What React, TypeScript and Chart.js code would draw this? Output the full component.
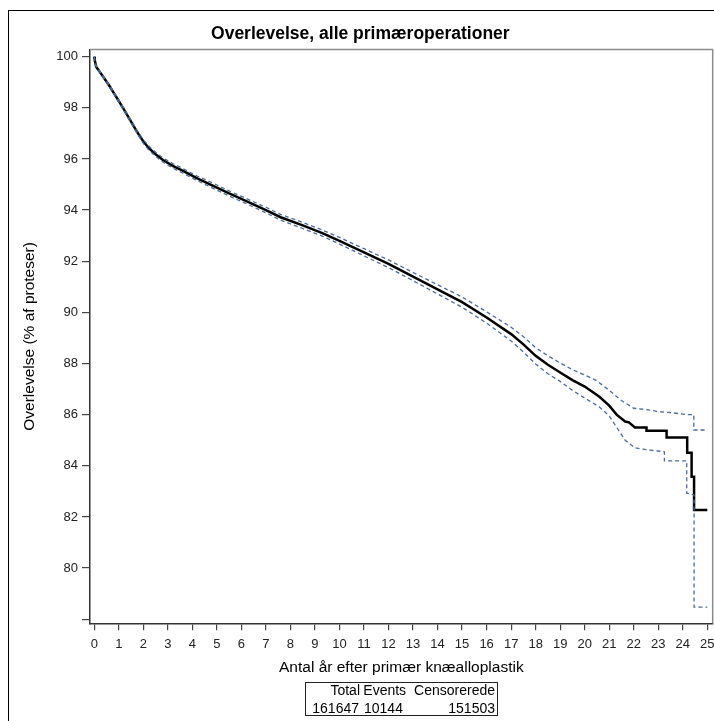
import React, { useEffect, useRef } from "react";
import { Chart, registerables } from "chart.js";

Chart.register(...registerables);

const FONT = "'Liberation Sans', Arial, sans-serif";

const TITLE = "Overlevelse, alle primæroperationer";
const X_TITLE = "Antal år efter primær knæalloplastik";
const Y_TITLE = "Overlevelse (% af proteser)";

const X_TICKS = [0, 1, 2, 3, 4, 5, 6, 7, 8, 9, 10, 11, 12, 13, 14, 15, 16, 17, 18, 19, 20, 21, 22, 23, 24, 25];
const Y_TICKS = [78, 80, 82, 84, 86, 88, 90, 92, 94, 96, 98, 100];
const Y_UNLABELED = [78];

// Kaplan-Meier estimate (solid line)
const survYears = [
  0, 0.02, 0.08, 0.3, 0.6, 0.9, 1.2, 1.5, 1.75, 2.0, 2.25, 2.5, 2.8, 3.2, 3.6, 4.2, 4.85, 5.5, 6.2, 7.0,
  7.6, 8.5, 9.3, 10.0, 11.0, 12.0, 13.0, 14.0, 15.0, 16.0, 17.0, 17.5, 18.0, 18.5, 19.0, 19.5, 20.0,
  20.6, 21.0, 21.3, 21.65, 21.8, 22.05, 22.52, 22.52, 23.34, 23.34, 24.18, 24.18, 24.36, 24.36, 24.46,
  24.46, 25.0,
];
const survPct = [
  100, 99.85, 99.6, 99.3, 98.88, 98.42, 97.95, 97.46, 97.05, 96.68, 96.4, 96.18, 95.96, 95.73, 95.54,
  95.24, 94.95, 94.65, 94.35, 94.0, 93.72, 93.4, 93.1, 92.8, 92.35, 91.9, 91.4, 90.9, 90.4, 89.8, 89.15,
  88.75, 88.3, 87.95, 87.65, 87.35, 87.1, 86.7, 86.35, 86.0, 85.73, 85.7, 85.5, 85.5, 85.37, 85.37,
  85.11, 85.11, 84.51, 84.51, 83.57, 83.57, 82.27, 82.27,
];

// Upper 95% confidence limit (dashed)
const upperYears = [
  0, 0.02, 0.08, 0.3, 0.6, 0.9, 1.2, 1.5, 1.75, 2.0, 2.25, 2.5, 2.8, 3.2, 3.6, 4.2, 4.85, 5.5, 6.2, 7.0,
  7.6, 8.5, 9.3, 10.0, 11.0, 12.0, 13.0, 14.0, 15.0, 16.0, 17.0, 17.5, 18.0, 18.5, 19.0, 19.5, 20.0,
  20.5, 21.0, 21.5, 22.0, 22.5, 23.0, 23.5, 24.2, 24.45, 24.45, 25.0,
];
const upperPct = [
  100, 99.87, 99.63, 99.33, 98.92, 98.47, 98.0, 97.52, 97.11, 96.75, 96.48, 96.26, 96.04, 95.82, 95.63,
  95.33, 95.05, 94.75, 94.45, 94.11, 93.83, 93.52, 93.22, 92.93, 92.49, 92.05, 91.56, 91.08, 90.6,
  90.02, 89.42, 89.05, 88.62, 88.3, 88.02, 87.76, 87.55, 87.32, 86.95, 86.55, 86.25, 86.2, 86.12,
  86.08, 86.0, 86.0, 85.4, 85.4,
];

// Lower 95% confidence limit (dashed)
const lowerYears = [
  0, 0.02, 0.08, 0.3, 0.6, 0.9, 1.2, 1.5, 1.75, 2.0, 2.25, 2.5, 2.8, 3.2, 3.6, 4.2, 4.85, 5.5, 6.2, 7.0,
  7.6, 8.5, 9.3, 10.0, 11.0, 12.0, 13.0, 14.0, 15.0, 16.0, 17.0, 17.5, 18.0, 18.5, 19.0, 19.5, 20.0,
  20.6, 21.0, 21.65, 22.05, 22.6, 23.25, 23.25, 24.16, 24.16, 24.46, 24.46, 25.0,
];
const lowerPct = [
  100, 99.83, 99.57, 99.27, 98.84, 98.37, 97.9, 97.4, 96.99, 96.61, 96.32, 96.1, 95.88, 95.64, 95.45,
  95.15, 94.85, 94.55, 94.25, 93.89, 93.61, 93.28, 92.98, 92.67, 92.21, 91.75, 91.24, 90.72, 90.2,
  89.58, 88.88, 88.45, 87.98, 87.6, 87.3, 86.95, 86.65, 86.3, 85.95, 85.0, 84.7, 84.62, 84.55, 84.19,
  84.19, 82.93, 82.86, 78.47, 78.47,
];

const TABLE_HEAD = ["Total", "Events", "Censorerede"];
const TABLE_VALUES = ["161647", "10144", "151503"];

const toPoints = (xs: number[], ys: number[]) => xs.map((x, i) => ({ x, y: ys[i] }));

export default function App() {
  const ref = useRef<HTMLCanvasElement | null>(null);

  useEffect(() => {
    document.body.style.overflow = "hidden";
    document.documentElement.style.overflow = "hidden";
    const canvas = ref.current;
    if (!canvas) return;

    const framePlugin = {
      id: "frame",
      afterDraw(chart: any) {
        const { ctx, chartArea } = chart;
        ctx.save();
        ctx.strokeStyle = "#8c8c8c";
        ctx.lineWidth = 1.5;
        ctx.beginPath();
        ctx.moveTo(chartArea.left, chartArea.top);
        ctx.lineTo(chartArea.right, chartArea.top);
        ctx.lineTo(chartArea.right, chartArea.bottom);
        ctx.stroke();
        ctx.restore();
      },
    };

    const ciColor = "#4d6b96";

    const chart = new Chart(canvas, {
      type: "line",
      data: {
        datasets: [
          {
            label: "Øvre grænse",
            data: toPoints(upperYears, upperPct),
            borderColor: ciColor,
            borderWidth: 1.3,
            borderDash: [4, 3],
            pointRadius: 0,
            fill: false,
            tension: 0,
          },
          {
            label: "Nedre grænse",
            data: toPoints(lowerYears, lowerPct),
            borderColor: ciColor,
            borderWidth: 1.3,
            borderDash: [4, 3],
            pointRadius: 0,
            fill: false,
            tension: 0,
          },
          {
            label: "Overlevelse",
            data: toPoints(survYears, survPct),
            borderColor: "#000000",
            borderWidth: 2.5,
            pointRadius: 0,
            fill: false,
            tension: 0,
          },
        ],
      },
      options: {
        responsive: false,
        animation: false,
        layout: { padding: { left: 0, right: 15.3, top: 0, bottom: 0 } },
        plugins: {
          legend: { display: false },
          tooltip: { enabled: false },
          title: {
            display: true,
            text: TITLE,
            color: "#000",
            font: { family: FONT, size: 17.5, weight: "bold" },
            padding: { top: 13.5, bottom: 5 },
          },
        },
        scales: {
          x: {
            type: "linear",
            min: -0.175,
            max: 25.22,
            afterBuildTicks: (s: any) => {
              s.ticks = X_TICKS.map((v) => ({ value: v }));
            },
            afterFit: (s: any) => {
              s.height = 97.7;
            },
            ticks: {
              autoSkip: false,
              maxRotation: 0,
              padding: 6,
              color: "#222",
              font: { family: FONT, size: 13 },
              callback: (v: any) => String(v),
            },
            grid: {
              drawOnChartArea: false,
              drawTicks: true,
              tickLength: 7,
              color: "#444",
              lineWidth: 1.2,
            },
            border: { display: true, color: "#333", width: 1.5 },
            title: {
              display: true,
              text: X_TITLE,
              color: "#000",
              font: { family: FONT, size: 15.5 },
              padding: { top: 0, bottom: 44 },
            },
          },
          y: {
            type: "linear",
            min: 77.84,
            max: 100.28,
            afterBuildTicks: (s: any) => {
              s.ticks = Y_TICKS.map((v) => ({ value: v }));
            },
            afterFit: (s: any) => {
              s.width = 82;
            },
            ticks: {
              padding: 4,
              color: "#222",
              font: { family: FONT, size: 13 },
              callback: (v: any) => (Y_UNLABELED.includes(v) ? "" : String(v)),
            },
            grid: {
              drawOnChartArea: false,
              drawTicks: true,
              tickLength: 8,
              color: "#444",
              lineWidth: 1.2,
            },
            border: { display: true, color: "#333", width: 1.5 },
            title: {
              display: true,
              text: Y_TITLE,
              color: "#000",
              font: { family: FONT, size: 15.5 },
              padding: { top: 12, bottom: 0 },
            },
          },
        },
      } as any,
      plugins: [framePlugin],
    });

    return () => chart.destroy();
  }, []);

  const cell = (text: string, left: number, width: number, top: number, align: "left" | "right") => (
    <div
      key={text + left + top}
      style={{
        position: "absolute",
        left,
        top,
        width,
        textAlign: align,
        fontFamily: FONT,
        fontSize: 14,
        lineHeight: "17px",
        whiteSpace: "nowrap",
        color: "#000",
      }}
    >
      {text}
    </div>
  );

  return (
    <div>
      <div
        style={{
          position: "absolute",
          left: 8,
          top: 10,
          width: 720,
          height: 740,
          border: "1.5px solid #000",
          boxSizing: "border-box",
          pointerEvents: "none",
        }}
      />
      <canvas
        ref={ref}
        width={720}
        height={711}
        style={{ position: "absolute", left: 8, top: 10, width: 720, height: 711 }}
      />
      <div
        style={{
          position: "absolute",
          left: 305,
          top: 682,
          width: 193,
          height: 34,
          border: "1.5px solid #222",
          boxSizing: "border-box",
        }}
      />
      {cell(TABLE_HEAD[0], 300, 60, 682.2, "right")}
      {cell(TABLE_HEAD[1], 363.3, 50, 682.2, "left")}
      {cell(TABLE_HEAD[2], 395, 100, 682.2, "right")}
      {cell(TABLE_VALUES[0], 299, 60, 699.8, "right")}
      {cell(TABLE_VALUES[1], 364, 50, 699.8, "left")}
      {cell(TABLE_VALUES[2], 395, 100, 699.8, "right")}
    </div>
  );
}
